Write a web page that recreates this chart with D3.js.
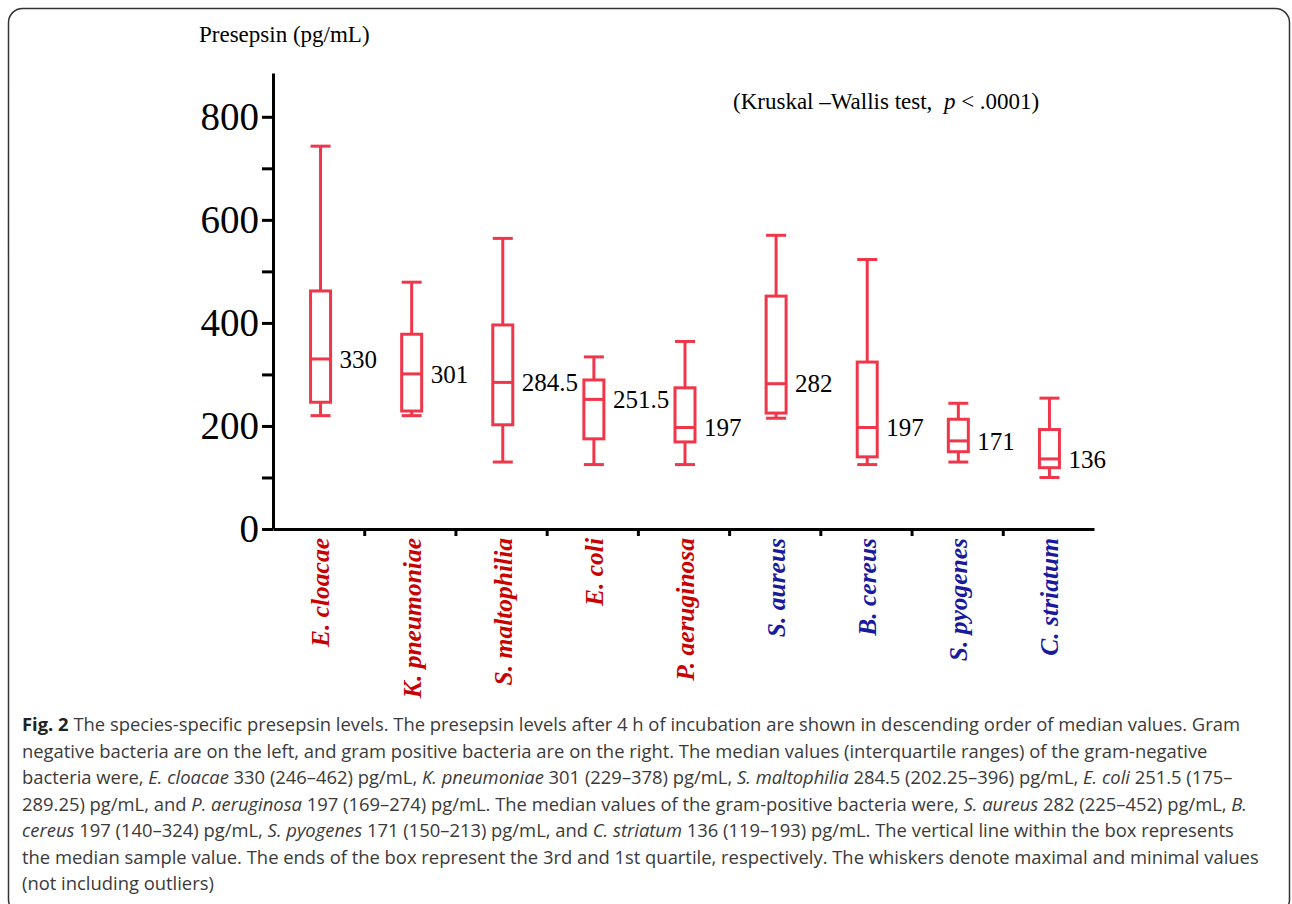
<!DOCTYPE html>
<html>
<head>
<meta charset="utf-8">
<script src="https://cdn.jsdelivr.net/npm/d3@7"></script>
<style>
  body { margin: 0; background: #fff; }
  svg { display: block; }
</style>
</head>
<body>
<div id="chart"></div>
<script>
// box plot data (pg/mL)
var species = ["E. cloacae", "K. pneumoniae", "S. maltophilia", "E. coli", "P. aeruginosa",
               "S. aureus", "B. cereus", "S. pyogenes", "C. striatum"];
var gram = ["neg", "neg", "neg", "neg", "neg", "pos", "pos", "pos", "pos"];
var whiskerMax = [743, 479, 564, 334, 364, 570, 523, 244, 254];
var q3 = [462, 378, 396, 289.25, 274, 452, 324, 213, 193];
var median = [330, 301, 284.5, 251.5, 197, 282, 197, 171, 136];
var q1 = [246, 229, 202.25, 175, 169, 225, 140, 150, 119];
var whiskerMin = [220, 220, 130, 125, 125, 215, 125, 130, 100];
var medianLabels = ["330", "301", "284.5", "251.5", "197", "282", "197", "171", "136"];
var majorTicks = [0, 200, 400, 600, 800];
var minorTicks = [100, 300, 500, 700];

var captionLines = [
  [["b", "Fig. 2"], ["n", " The species-specific presepsin levels. The presepsin levels after 4\u00a0h of incubation are shown in descending order of median values. Gram"]],
  [["n", "negative bacteria are on the left, and gram positive bacteria are on the right. The median values (interquartile ranges) of the gram-negative"]],
  [["n", "bacteria were, "], ["i", "E. cloacae"], ["n", " 330 (246\u2013462) pg/mL, "], ["i", "K. pneumoniae"], ["n", " 301 (229\u2013378) pg/mL, "], ["i", "S. maltophilia"], ["n", " 284.5 (202.25\u2013396) pg/mL, "], ["i", "E. coli"], ["n", " 251.5 (175\u2013"]],
  [["n", "289.25) pg/mL, and "], ["i", "P. aeruginosa"], ["n", " 197 (169\u2013274) pg/mL. The median values of the gram-positive bacteria were, "], ["i", "S. aureus"], ["n", " 282 (225\u2013452) pg/mL, "], ["i", "B."]],
  [["i", "cereus"], ["n", " 197 (140\u2013324) pg/mL, "], ["i", "S. pyogenes"], ["n", " 171 (150\u2013213) pg/mL, and "], ["i", "C. striatum"], ["n", " 136 (119\u2013193) pg/mL. The vertical line within the box represents"]],
  [["n", "the median sample value. The ends of the box represent the 3rd and 1st quartile, respectively. The whiskers denote maximal and minimal values"]],
  [["n", "(not including outliers)"]]
];

var data = species.map(function (s, i) {
  return { name: s, gram: gram[i], max: whiskerMax[i], q3: q3[i], med: median[i],
           q1: q1[i], min: whiskerMin[i], label: medianLabels[i] };
});

var svg = d3.select("#chart").append("svg")
    .attr("width", 1292)
    .attr("height", 904);

// panel frame
svg.append("rect")
    .attr("x", 8.5).attr("y", 8.5)
    .attr("width", 1281).attr("height", 905)
    .attr("rx", 14).attr("ry", 14)
    .attr("fill", "none")
    .attr("stroke", "#333")
    .attr("stroke-width", 1.5);

var serif = "'Liberation Serif', 'Times New Roman', serif";
var boxColor = "#f0364a";
var labelColor = { neg: "#c80000", pos: "#1a1a9c" };

var x = d3.scaleBand().domain(species).range([275, 1095]).padding(0);
var xi = d3.scaleLinear().domain([0, species.length]).range([273, 1094]);
var y = d3.scaleLinear().domain([0, 885]).range([529, 73]);
var boxW = 20;

// y axis
var yAxis = svg.append("g")
    .attr("transform", "translate(273,0)")
    .call(d3.axisLeft(y).tickValues(majorTicks.concat(minorTicks))
        .tickSize(11).tickSizeOuter(0)
        .tickFormat(function (d) { return majorTicks.indexOf(d) >= 0 ? d : ""; }));
yAxis.select(".domain").attr("stroke", "#000").attr("stroke-width", 3);
yAxis.selectAll(".tick line").attr("stroke", "#000").attr("stroke-width", 3);
yAxis.selectAll(".tick text")
    .attr("x", -14)
    .attr("font-family", serif)
    .attr("font-size", 39)
    .attr("fill", "#000");

// x axis: ticks at the category boundaries
var xAxis = svg.append("g")
    .attr("transform", "translate(0,529)")
    .call(d3.axisBottom(xi).tickValues(d3.range(1, species.length))
        .tickSize(7).tickSizeOuter(0).tickFormat(""));
xAxis.select(".domain").attr("stroke", "#000").attr("stroke-width", 3);
xAxis.selectAll(".tick line").attr("stroke", "#000").attr("stroke-width", 3);

// category labels, rotated
svg.append("g").selectAll("text")
    .data(data)
    .enter().append("text")
    .attr("transform", function (d) {
      return "translate(" + (x(d.name) + x.bandwidth() / 2) + ",538) rotate(-90)";
    })
    .attr("dy", "0.35em")
    .attr("text-anchor", "end")
    .attr("font-family", serif)
    .attr("font-size", 25.5)
    .attr("font-weight", "bold")
    .attr("font-style", "italic")
    .attr("fill", function (d) { return labelColor[d.gram]; })
    .text(function (d) { return d.name; });

// boxes
var box = svg.append("g").selectAll(".box")
    .data(data)
    .enter().append("g")
    .attr("class", "box")
    .attr("transform", function (d) { return "translate(" + (x(d.name) + x.bandwidth() / 2) + ",0)"; })
    .attr("stroke", boxColor)
    .attr("stroke-width", 3)
    .attr("fill", "none");

box.append("line").attr("x1", 0).attr("x2", 0)
    .attr("y1", function (d) { return y(d.max); })
    .attr("y2", function (d) { return y(d.q3); });
box.append("line").attr("x1", 0).attr("x2", 0)
    .attr("y1", function (d) { return y(d.q1); })
    .attr("y2", function (d) { return y(d.min); });
box.append("line").attr("x1", -boxW / 2).attr("x2", boxW / 2)
    .attr("y1", function (d) { return y(d.max); })
    .attr("y2", function (d) { return y(d.max); });
box.append("line").attr("x1", -boxW / 2).attr("x2", boxW / 2)
    .attr("y1", function (d) { return y(d.min); })
    .attr("y2", function (d) { return y(d.min); });
box.append("rect")
    .attr("x", -boxW / 2).attr("width", boxW)
    .attr("y", function (d) { return y(d.q3); })
    .attr("height", function (d) { return y(d.q1) - y(d.q3); })
    .attr("fill", "#fff");
box.append("line").attr("x1", -boxW / 2).attr("x2", boxW / 2)
    .attr("y1", function (d) { return y(d.med); })
    .attr("y2", function (d) { return y(d.med); });

box.append("text")
    .attr("x", boxW / 2 + 9)
    .attr("y", function (d) { return y(d.med); })
    .attr("dy", "0.35em")
    .attr("stroke", "none")
    .attr("fill", "#000")
    .attr("font-family", serif)
    .attr("font-size", 25)
    .text(function (d) { return d.label; });

// axis title and test note
svg.append("text")
    .attr("x", 199).attr("y", 42)
    .attr("font-family", serif)
    .attr("font-size", 23)
    .text("Presepsin (pg/mL)");

var kw = svg.append("text")
    .attr("x", 733).attr("y", 109)
    .attr("font-family", serif)
    .attr("font-size", 23)
    .attr("xml:space", "preserve");
kw.append("tspan").text("(Kruskal \u2013Wallis test,  ");
kw.append("tspan").attr("font-style", "italic").text("p");
kw.append("tspan").text(" < .0001)");

// caption
var cap = svg.append("g")
    .attr("font-family", "'Open Sans', sans-serif")
    .attr("font-size", 18.4)
    .attr("fill", "#3a3a3a");
captionLines.forEach(function (line, i) {
  var t = cap.append("text")
      .attr("x", 22)
      .attr("y", 731 + i * 26.5)
      .attr("xml:space", "preserve");
  line.forEach(function (part) {
    var s = t.append("tspan").text(part[1]);
    if (part[0] === "b") s.attr("font-weight", "bold").attr("fill", "#222");
    if (part[0] === "i") s.attr("font-style", "italic");
  });
});
</script>
</body>
</html>
